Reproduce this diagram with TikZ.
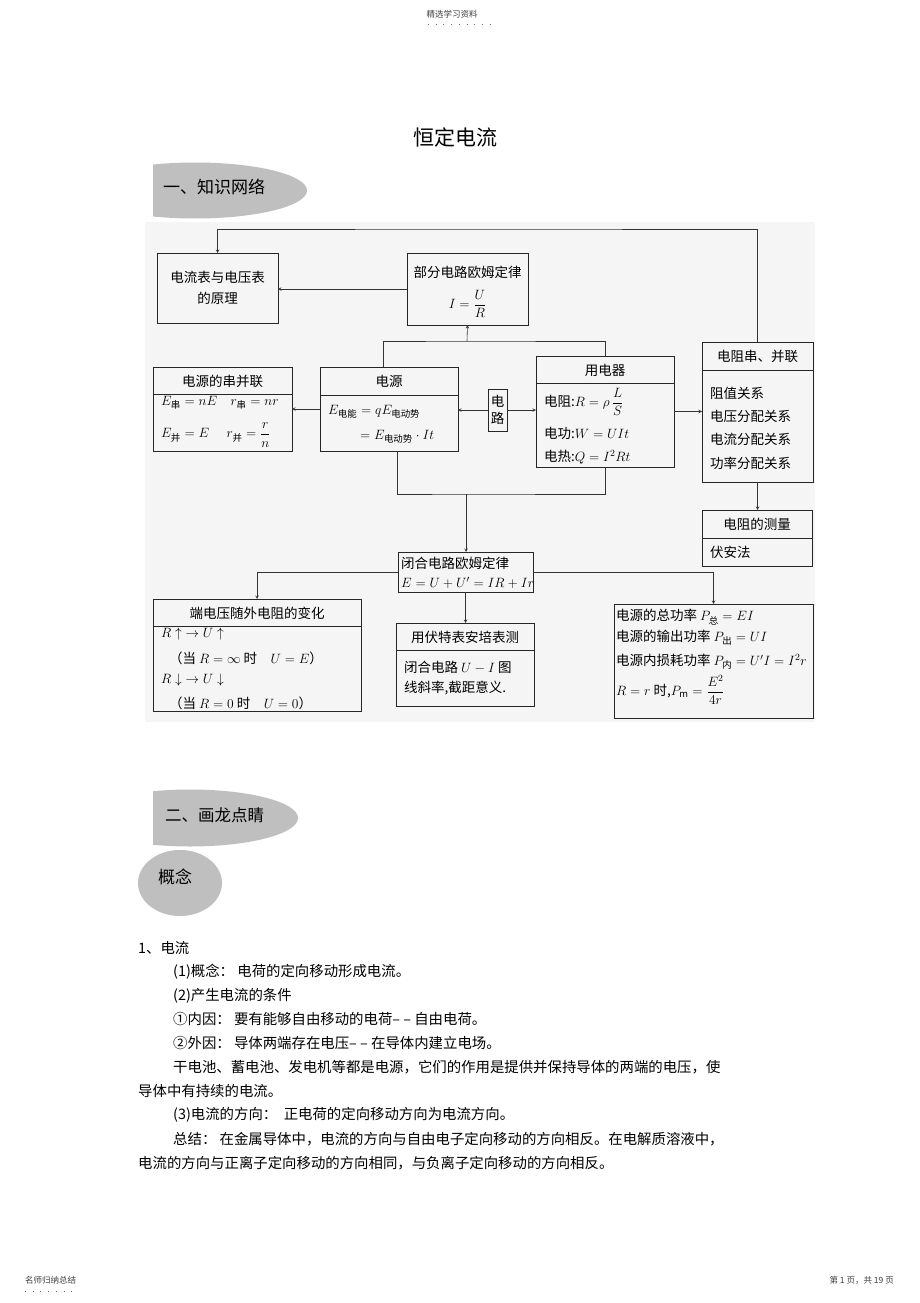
\documentclass[tikz,border=0pt]{standalone}
\usepackage{fix-cm}
\usepackage{amsmath}
\usepackage{amssymb}
\usepackage{fontspec}
\setmainfont{Noto Sans CJK SC}
\usepackage{tikz}
\usetikzlibrary{positioning,arrows}
\newcommand{\sz}[1]{\fontsize{#1}{#1}\selectfont}

\begin{document}
\begin{tikzpicture}[x=1pt,y=1pt,
  box/.style={draw=black!85,line width=0.9pt,inner sep=0pt,outer sep=0pt},
  lbl/.style={font=\sz{13.5}},
  row/.style={font=\sz{13.5},anchor=west},
  body/.style={font=\sz{14.4},anchor=west},
  link/.style={draw=black!80,line width=0.6pt},
  arr/.style={link,-stealth}]
\tikzstyle{every node}+=[inner sep=0pt]
\useasboundingbox (0,0) rectangle (920,-1303);
\fill[white] (0,0) rectangle (920,-1303);
\node[font=\sz{8.5},text=black!75] (head) at (452,-14) {精选学习资料};
\draw[black!60,line width=0.8pt,dash pattern=on 0.8pt off 6.9pt] (428,-24) -- (492,-24);
\node[font=\sz{21}] (title) at (455,-137) {恒定电流};
\begin{scope}
\clip (153,-150) rectangle (330,-230);
\fill[black!25] (195,-190.5) ellipse (112 and 28);
\end{scope}
\node[font=\sz{17},anchor=west] (sec1) at (163,-187) {一、知识网络};
\fill[black!4] (145,-222) rectangle (815,-722);
\node[box,minimum width=121,minimum height=70,lbl,align=center] (meter) at (217.5,-288) {电流表与电压表\\[8pt]的原理};
\node[box,minimum width=121,minimum height=72] (ohm) at (467.5,-289) {};
\node[lbl] (ohmT) at (467.5,-272) {部分电路欧姆定律};
\node[lbl] (ohmF) at (467.5,-304) {$I = \dfrac{U}{R}$};
\node[box,minimum width=139,minimum height=84] (ser) at (222.5,-409) {};
\draw[box] (ser.west |- 0,-394) -- (ser.east |- 0,-394);
\node[lbl] (serT) at (222.5,-381) {电源的串并联};
\node[row] (ser1) at (161,-403) {$E_{\text{串}} = nE \quad r_{\text{串}} = nr$};
\node[row] (ser2) at (161,-435) {$E_{\text{并}} = E \quad\; r_{\text{并}} = \dfrac{r}{n}$};
\node[box,minimum width=138,minimum height=84] (src) at (389,-409) {};
\draw[box] (src.west |- 0,-395) -- (src.east |- 0,-395);
\node[lbl] (srcT) at (389,-381) {电源};
\node[row] (src1) at (328,-412) {$E_{\text{电能}} = qE_{\text{电动势}}$};
\node[row] (src2) at (360,-437) {$= E_{\text{电动势}}\cdot It$};
\node[box,minimum width=19,minimum height=42,lbl,align=center] (circ) at (497.5,-410) {电\\[4pt]路};
\node[box,minimum width=138,minimum height=111] (load) at (605,-411.5) {};
\draw[box] (load.west |- 0,-383) -- (load.east |- 0,-383);
\node[lbl] (loadT) at (605,-370) {用电器};
\node[row] (load1) at (544,-402) {电阻:$R = \rho\,\dfrac{L}{S}$};
\node[row] (load2) at (544,-433) {电功:$W = UIt$};
\node[row] (load3) at (544,-457) {电热:$Q = I^2Rt$};
\node[box,minimum width=111,minimum height=140] (res) at (757.5,-412) {};
\draw[box] (res.west |- 0,-370) -- (res.east |- 0,-370);
\node[lbl] (resT) at (757.5,-356) {电阻串、并联};
\node[row] (res1) at (710,-393) {阻值关系};
\node[row] (res2) at (710,-416) {电压分配关系};
\node[row] (res3) at (710,-439) {电流分配关系};
\node[row] (res4) at (710,-463) {功率分配关系};
\node[box,minimum width=110,minimum height=56] (meas) at (757,-538) {};
\draw[box] (meas.west |- 0,-538) -- (meas.east |- 0,-538);
\node[lbl] (measT) at (757,-524) {电阻的测量};
\node[row] (meas1) at (710,-552) {伏安法};
\node[box,minimum width=135,minimum height=40] (closed) at (465.5,-572) {};
\node[row] (closed1) at (401,-563) {闭合电路欧姆定律};
\node[row] (closed2) at (401,-583) {$E = U + U' = IR + Ir$};
\node[box,minimum width=208,minimum height=112] (term) at (257,-655) {};
\draw[box] (term.west |- 0,-626) -- (term.east |- 0,-626);
\node[lbl] (termT) at (257,-613) {端电压随外电阻的变化};
\node[row] (term1) at (161,-634) {$R\uparrow\;\rightarrow U\uparrow$};
\node[row] (term2) at (169,-658) {（当 $R = \infty$ 时\quad $U = E$）};
\node[row] (term3) at (161,-680) {$R\downarrow\;\rightarrow U\downarrow$};
\node[row] (term4) at (169,-703) {（当 $R = 0$ 时\quad $U = 0$）};
\node[box,minimum width=138,minimum height=83] (volt) at (465,-664.5) {};
\draw[box] (volt.west |- 0,-650) -- (volt.east |- 0,-650);
\node[lbl] (voltT) at (465,-637) {用伏特表安培表测};
\node[row] (volt1) at (404,-667) {闭合电路 $U - I$ 图};
\node[row] (volt2) at (404,-688) {线斜率,截距意义.};
\node[box,minimum width=199,minimum height=114] (pow) at (713.5,-661) {};
\node[row] (pow1) at (616,-617) {电源的总功率 $P_{\text{总}} = EI$};
\node[row] (pow2) at (616,-638) {电源的输出功率 $P_{\text{出}} = UI$};
\node[row] (pow3) at (616,-662) {电源内损耗功率 $P_{\text{内}} = U'I = I^2r$};
\node[row] (pow4) at (616,-690) {$R = r$ 时,$P_{\text{m}} = \dfrac{E^2}{4r}$};
\coordinate (topbar) at (490,-229);
\coordinate (midbar) at (467,-341);
\coordinate (lowbar) at (466,-494);
\draw[arr] (res.north) |- (topbar) -| (meter.north);
\draw[arr] (ohm.west) -- (ohm.west -| meter.east);
\draw[link] ([xshift=-6pt]src.north) |- (midbar) -| (load.north);
\draw[arr] (midbar) -- (ohm.south);
\draw[arr] (circ.west) -- (circ.west -| src.east);
\draw[arr] (src.west) -- (ser.east);
\draw[arr] (circ.east) -- (circ.east -| load.west);
\draw[arr] (load.east) -- (load.east -| res.west);
\draw[arr] (res.south) -- (res.south |- meas.north);
\draw[link] ([xshift=8pt]src.south) |- (lowbar) -| (load.south);
\draw[arr] (lowbar) -- (lowbar |- closed.north);
\draw[arr] (closed.west) -| (term.north);
\draw[arr] (closed.south) -- (closed.south |- volt.north);
\draw[arr] (closed.east) -| (pow.north);
\begin{scope}
\clip (153,-780) rectangle (330,-860);
\fill[black!25] (190,-818) ellipse (108 and 28.5);
\end{scope}
\node[font=\sz{16.5},anchor=west] (sec2) at (165,-815) {二、画龙点睛};
\fill[black!25] (180,-883) ellipse (42 and 33);
\node[font=\sz{17},anchor=west] (idea) at (158,-877) {概念};
\node[body] (t1) at (138,-948) {1、电流};
\node[body] (t2) at (173,-972) {(1)概念： 电荷的定向移动形成电流。};
\node[body] (t3) at (173,-996) {(2)产生电流的条件};
\node[body] (t4) at (173,-1019) {①内因： 要有能够自由移动的电荷– – 自由电荷。};
\node[body] (t5) at (173,-1043) {②外因： 导体两端存在电压– – 在导体内建立电场。};
\node[body] (t6) at (173,-1067) {干电池、蓄电池、发电机等都是电源，它们的作用是提供并保持导体的两端的电压，使};
\node[body] (t7) at (138,-1091) {导体中有持续的电流。};
\node[body] (t8) at (173,-1115) {(3)电流的方向：\ \ 正电荷的定向移动方向为电流方向。};
\node[body] (t9) at (173,-1139) {总结： 在金属导体中，电流的方向与自由电子定向移动的方向相反。在电解质溶液中，};
\node[body] (t10) at (138,-1163) {电流的方向与正离子定向移动的方向相同，与负离子定向移动的方向相反。};
\node[font=\sz{8.5},text=black!75,anchor=west] (foot1) at (25,-1280) {名师归纳总结};
\draw[black!60,line width=0.8pt,dash pattern=on 0.8pt off 6.9pt] (25,-1291) -- (75,-1291);
\node[font=\sz{8.5},text=black!75,anchor=east] (foot2) at (894,-1280) {第 1 页，共 19 页};
\end{tikzpicture}
\end{document}
